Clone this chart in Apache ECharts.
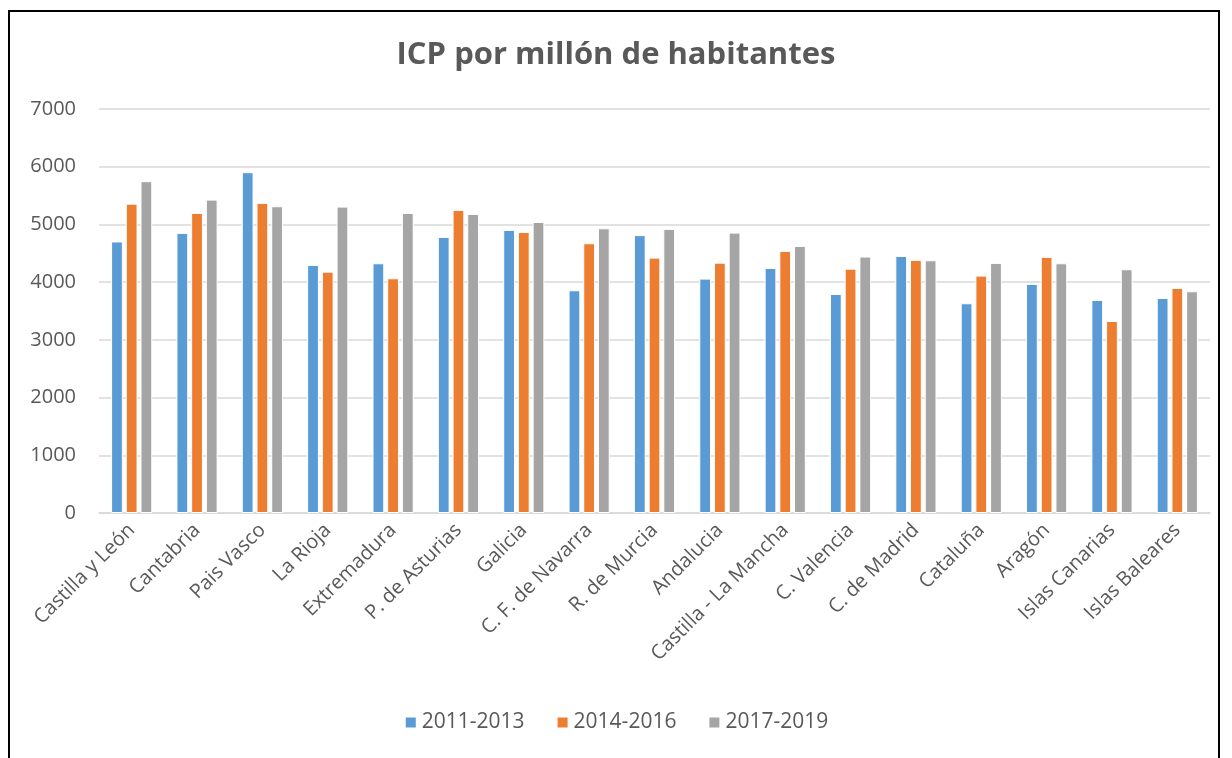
<!DOCTYPE html>
<html>
<head>
<meta charset="utf-8">
<script src="https://cdn.jsdelivr.net/npm/echarts@6/dist/echarts.min.js"></script>
<style>
  body { margin: 0; background: #fff; }
  #frame { position: absolute; left: 8px; top: 10px; width: 1212px; height: 770px; border: 2px solid #000; box-sizing: border-box; }
  #chart { position: absolute; left: 0; top: 0; width: 1232px; height: 758px; }
</style>
</head>
<body>
<div id="frame"></div>
<div id="chart"></div>
<script>
var regiones = ["Castilla y León", "Cantabria", "Pais Vasco", "La Rioja", "Extremadura",
  "P. de Asturias", "Galicia", "C. F. de Navarra", "R. de Murcia", "Andalucia",
  "Castilla - La Mancha", "C. Valencia", "C. de Madrid", "Cataluña", "Aragón",
  "Islas Canarias", "Islas Baleares"];
var p2011 = [4705, 4853, 5905, 4298, 4327, 4783, 4905, 3859, 4815, 4061, 4246, 3795, 4454, 3634, 3969, 3691, 3726];
var p2014 = [5360, 5199, 5373, 4182, 4067, 5251, 4870, 4674, 4425, 4338, 4541, 4234, 4385, 4113, 4437, 3327, 3899];
var p2017 = [5749, 5430, 5315, 5309, 5199, 5182, 5043, 4933, 4922, 4858, 4627, 4443, 4379, 4333, 4327, 4223, 3842];
var nombres = ["2011-2013", "2014-2016", "2017-2019"];
var colores = ["#5B9BD5", "#ED7D31", "#A5A5A5"];

var myChart = echarts.init(document.getElementById("chart"));

function serie(i, datos) {
  return {
    name: nombres[i],
    type: "bar",
    data: datos,
    barGap: "25%",
    barCategoryGap: "37%",
    itemStyle: { color: colores[i], borderColor: "#fff", borderWidth: 1 }
  };
}

var option = {
  animation: false,
  textStyle: { fontFamily: "Open Sans" },
  title: {
    text: "ICP por millón de habitantes",
    left: "center",
    top: 35,
    textStyle: { fontFamily: "Open Sans", fontSize: 31, fontWeight: "bold", color: "#595959" }
  },
  legend: {
    data: nombres,
    bottom: 20,
    left: "center",
    itemWidth: 12,
    itemHeight: 12,
    itemGap: 31,
    icon: "rect",
    textStyle: { fontFamily: "Open Sans", fontSize: 21, color: "#595959" }
  },
  grid: { left: 99, right: 22, top: 109, bottom: 245, containLabel: false },
  xAxis: {
    type: "category",
    data: regiones,
    axisLine: { lineStyle: { color: "#D9D9D9", width: 1.5 } },
    axisTick: { show: false },
    axisLabel: { rotate: 45, interval: 0, fontSize: 20, color: "#595959", margin: 14 }
  },
  yAxis: {
    type: "value",
    min: 0,
    max: 7000,
    interval: 1000,
    axisLine: { show: false },
    axisTick: { show: false },
    axisLabel: {
      fontSize: 20,
      color: "#595959",
      margin: 23,
      formatter: function (v) { return String(v); }
    },
    splitLine: { lineStyle: { color: "#D9D9D9", width: 1.5 } }
  },
  series: [serie(0, p2011), serie(1, p2014), serie(2, p2017)]
};

myChart.setOption(option);
</script>
</body>
</html>
